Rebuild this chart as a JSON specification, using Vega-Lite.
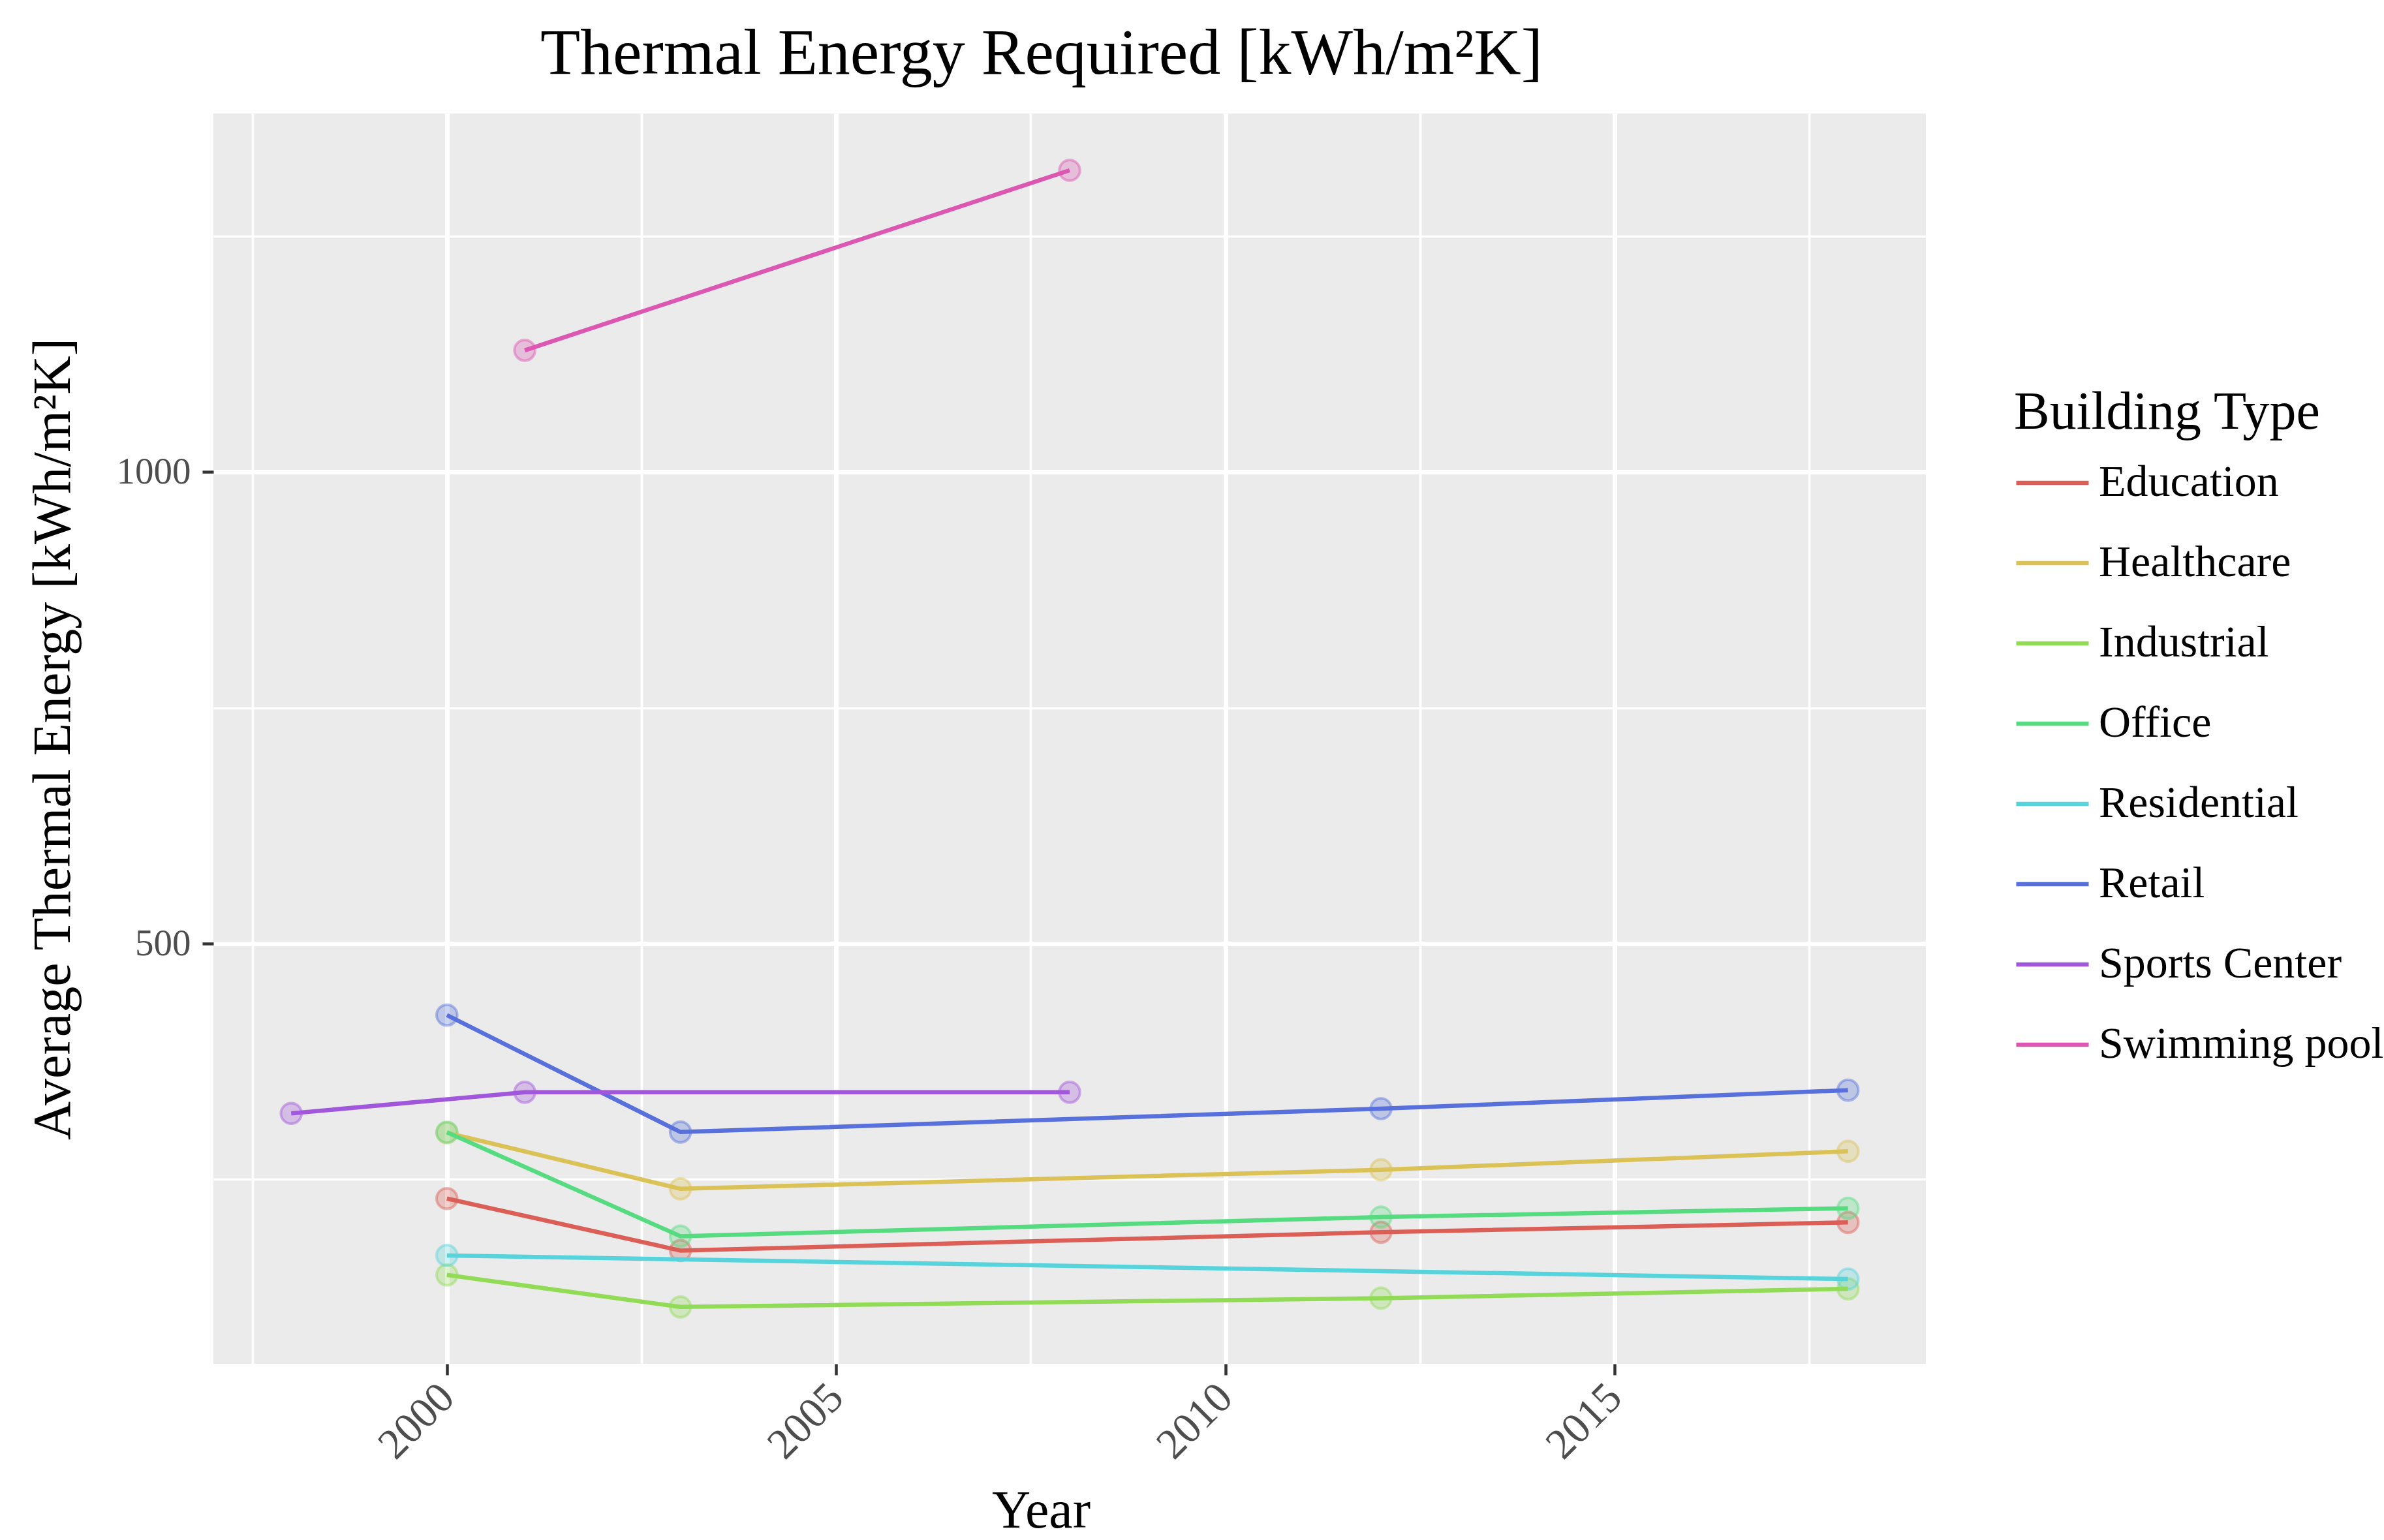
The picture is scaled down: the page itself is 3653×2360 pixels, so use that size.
{
  "$schema": "https://vega.github.io/schema/vega-lite/v6.json",
  "autosize": "none",
  "width": 2624,
  "height": 1916,
  "padding": {"left": 327, "top": 174, "right": 702, "bottom": 270},
  "background": "white",
  "title": {
    "text": "Thermal Energy Required [kWh/m²K]",
    "fontSize": 100,
    "fontWeight": "normal",
    "color": "black",
    "anchor": "middle",
    "frame": "group",
    "offset": 40,
    "dx": -43
  },
  "data": {
    "values": [
      {"Year": 2000, "Building Type": "Education", "Energy": 229.7},
      {"Year": 2003, "Building Type": "Education", "Energy": 174.6},
      {"Year": 2012, "Building Type": "Education", "Energy": 194.0},
      {"Year": 2018, "Building Type": "Education", "Energy": 204.4},
      {"Year": 2000, "Building Type": "Healthcare", "Energy": 299.5},
      {"Year": 2003, "Building Type": "Healthcare", "Energy": 240.0},
      {"Year": 2012, "Building Type": "Healthcare", "Energy": 260.2},
      {"Year": 2018, "Building Type": "Healthcare", "Energy": 279.8},
      {"Year": 2000, "Building Type": "Industrial", "Energy": 148.7},
      {"Year": 2003, "Building Type": "Industrial", "Energy": 114.8},
      {"Year": 2012, "Building Type": "Industrial", "Energy": 124.1},
      {"Year": 2018, "Building Type": "Industrial", "Energy": 134.0},
      {"Year": 2000, "Building Type": "Office", "Energy": 300.0},
      {"Year": 2003, "Building Type": "Office", "Energy": 189.8},
      {"Year": 2012, "Building Type": "Office", "Energy": 210.1},
      {"Year": 2018, "Building Type": "Office", "Energy": 219.4},
      {"Year": 2000, "Building Type": "Residential", "Energy": 169.4},
      {"Year": 2018, "Building Type": "Residential", "Energy": 144.4},
      {"Year": 2000, "Building Type": "Retail", "Energy": 424.2},
      {"Year": 2003, "Building Type": "Retail", "Energy": 300.2},
      {"Year": 2012, "Building Type": "Retail", "Energy": 325.0},
      {"Year": 2018, "Building Type": "Retail", "Energy": 344.6},
      {"Year": 1998, "Building Type": "Sports Center", "Energy": 320.0},
      {"Year": 2001, "Building Type": "Sports Center", "Energy": 342.4},
      {"Year": 2008, "Building Type": "Sports Center", "Energy": 342.4},
      {"Year": 2001, "Building Type": "Swimming pool", "Energy": 1129.0},
      {"Year": 2008, "Building Type": "Swimming pool", "Energy": 1319.8}
    ]
  },
  "layer": [
    {
      "mark": {"type": "point", "filled": false, "size": 1000, "strokeWidth": 4, "strokeOpacity": 0.45, "fillOpacity": 0.3},
      "encoding": {
        "x": {
          "field": "Year", "type": "quantitative",
          "scale": {"domain": [1997, 2019], "nice": false, "zero": false},
          "axis": {"orient": "bottom", "values": [1997.5, 2002.5, 2007.5, 2012.5, 2017.5], "grid": true, "gridWidth": 3.7, "gridColor": "white", "labels": false, "ticks": false, "domain": false, "title": null}
        },
        "y": {
          "field": "Energy", "type": "quantitative",
          "scale": {"domain": [54.5, 1380], "nice": false, "zero": false},
          "axis": {"orient": "left", "values": [250, 750, 1250], "grid": true, "gridWidth": 3.7, "gridColor": "white", "labels": false, "ticks": false, "domain": false, "title": null}
        },
        "color": {
          "field": "Building Type", "type": "nominal", "title": "Building Type",
          "scale": {"domain": ["Education", "Healthcare", "Industrial", "Office", "Residential", "Retail", "Sports Center", "Swimming pool"],
                    "range": ["#db5f57", "#dbc257", "#91db57", "#57db80", "#57d3db", "#5770db", "#a157db", "#db57b2"]},
          "legend": {
            "orient": "none", "legendX": 2759, "legendY": 418,
            "titleFontSize": 82, "titleFontWeight": "normal", "titleColor": "black", "titlePadding": 7, "titleLimit": 0,
            "labelFontSize": 68, "labelColor": "black", "labelOffset": 12, "labelLimit": 0,
            "symbolType": "stroke", "symbolSize": 12321, "symbolStrokeWidth": 6.5, "symbolOpacity": 1,
            "rowPadding": 30, "padding": 0
          }
        },
        "fill": {
          "field": "Building Type", "type": "nominal", "legend": null,
          "scale": {"domain": ["Education", "Healthcare", "Industrial", "Office", "Residential", "Retail", "Sports Center", "Swimming pool"],
                    "range": ["#db5f57", "#dbc257", "#91db57", "#57db80", "#57d3db", "#5770db", "#a157db", "#db57b2"]}
        }
      }
    },
    {
      "mark": {"type": "line", "strokeWidth": 6.5},
      "encoding": {
        "x": {
          "field": "Year", "type": "quantitative",
          "scale": {"domain": [1997, 2019], "nice": false, "zero": false},
          "axis": {"orient": "bottom", "values": [2000, 2005, 2010, 2015], "format": "d", "grid": true, "gridWidth": 7, "gridColor": "white",
                   "labelAngle": -45, "labelAlign": "right", "labelBaseline": "middle", "labelFontSize": 66, "labelColor": "#4d4d4d", "labelPadding": 24,
                   "tickSize": 17, "tickWidth": 4.5, "tickColor": "#333333", "domain": false,
                   "title": "Year", "titleFontSize": 82, "titleFontWeight": "normal", "titleColor": "black", "titlePadding": 28, "titleX": 1268}
        },
        "y": {
          "field": "Energy", "type": "quantitative",
          "scale": {"domain": [54.5, 1380], "nice": false, "zero": false},
          "axis": {"orient": "left", "values": [500, 1000], "format": "d", "grid": true, "gridWidth": 7, "gridColor": "white",
                   "labelFontSize": 57, "labelColor": "#4d4d4d", "labelPadding": 18,
                   "tickSize": 17, "tickWidth": 4.5, "tickColor": "#333333", "domain": false,
                   "title": "Average Thermal Energy [kWh/m²K]", "titleFontSize": 82, "titleFontWeight": "normal", "titleColor": "black", "titlePadding": 55}
        },
        "color": {
          "field": "Building Type", "type": "nominal", "title": "Building Type",
          "scale": {"domain": ["Education", "Healthcare", "Industrial", "Office", "Residential", "Retail", "Sports Center", "Swimming pool"],
                    "range": ["#db5f57", "#dbc257", "#91db57", "#57db80", "#57d3db", "#5770db", "#a157db", "#db57b2"]},
          "legend": {
            "orient": "none", "legendX": 2759, "legendY": 418,
            "titleFontSize": 82, "titleFontWeight": "normal", "titleColor": "black", "titlePadding": 7, "titleLimit": 0,
            "labelFontSize": 68, "labelColor": "black", "labelOffset": 12, "labelLimit": 0,
            "symbolType": "stroke", "symbolSize": 12321, "symbolStrokeWidth": 6.5, "symbolOpacity": 1,
            "rowPadding": 30, "padding": 0
          }
        }
      }
    }
  ],
  "resolve": {"axis": {"x": "independent", "y": "independent"}},
  "config": {
    "font": "Liberation Serif",
    "view": {"fill": "#ebebeb", "stroke": null}
  }
}
